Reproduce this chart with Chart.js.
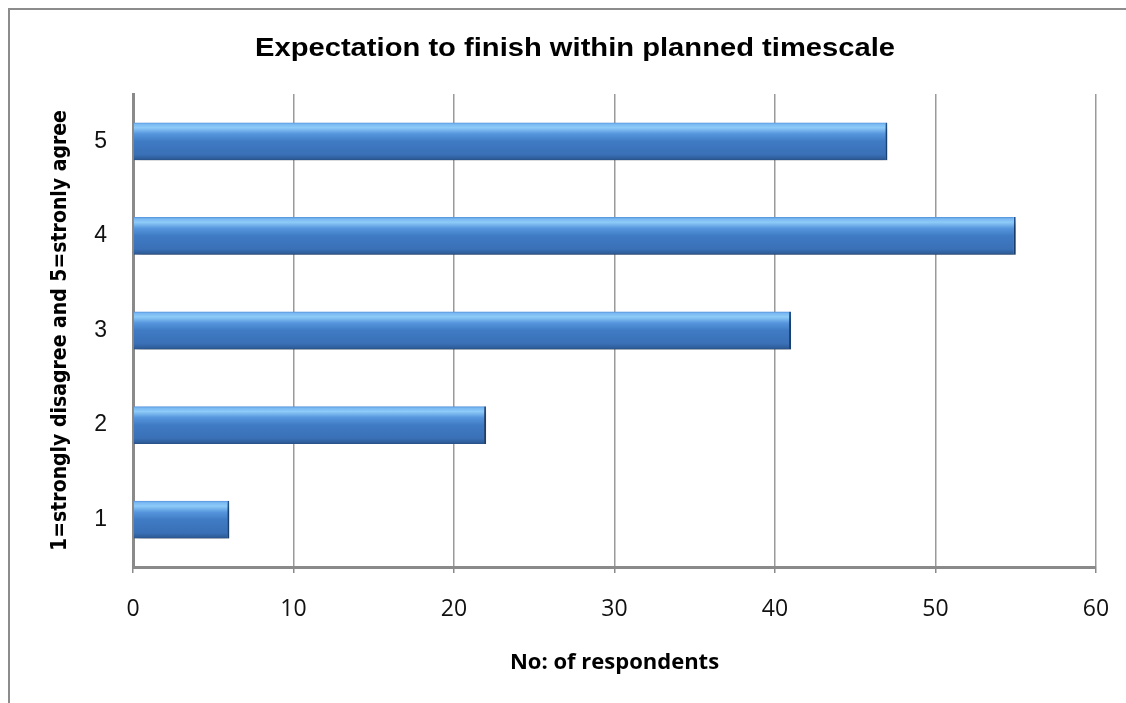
<!DOCTYPE html>
<html>
<head>
<meta charset="utf-8">
<title>Expectation to finish within planned timescale</title>
<script src="https://cdn.jsdelivr.net/npm/chart.js@4.4.1/dist/chart.umd.min.js"></script>
<style>
  html, body { margin: 0; padding: 0; background: #ffffff; }
  canvas { display: block; }
</style>
</head>
<body>
<canvas id="chart" width="1126" height="703"></canvas>
<script>
// Survey answers on a 1..5 agreement scale
const categories = ['1', '2', '3', '4', '5'];
const respondents = [6, 22, 41, 55, 47];
const xTicks = [0, 10, 20, 30, 40, 50, 60];

const chartTitle = 'Expectation to finish within planned timescale';
const xTitle = 'No: of respondents';
const yTitle = '1=strongly disagree and 5=stronly agree';

const BAR_FRACTION = 0.4;
const NARROW = "'Liberation Sans Narrow', 'DejaVu Sans Condensed', 'Arial Narrow', sans-serif";

// Vertical glossy gradient across each bar's thickness
function barFill(context) {
  const chart = context.chart;
  const y = chart.scales && chart.scales.y;
  if (!y || context.type !== 'data') return '#3f7bc4';
  const c = y.getPixelForValue(context.dataIndex);
  const band = Math.abs(y.getPixelForValue(1) - y.getPixelForValue(0));
  const h = band * BAR_FRACTION;
  if (!isFinite(c) || !isFinite(h) || h <= 0) return '#3f7bc4';
  const g = chart.ctx.createLinearGradient(0, c - h / 2, 0, c + h / 2);
  g.addColorStop(0.00, '#4f8fdc');
  g.addColorStop(0.05, '#7ab9f2');
  g.addColorStop(0.14, '#8ecbf8');
  g.addColorStop(0.30, '#5696dd');
  g.addColorStop(0.50, '#3f7bc4');
  g.addColorStop(0.85, '#3a70b6');
  g.addColorStop(0.95, '#2f5f9c');
  g.addColorStop(1.00, '#284f85');
  return g;
}

// Outer frame and the chart heading
const framePlugin = {
  id: 'frame',
  beforeDraw(chart) {
    const ctx = chart.ctx;
    ctx.save();
    ctx.fillStyle = '#ffffff';
    ctx.fillRect(0, 0, chart.width, chart.height);
    ctx.strokeStyle = '#8c8c8c';
    ctx.lineWidth = 2;
    ctx.strokeRect(9, 9, 1133, 720);
    ctx.restore();
  },
  afterDraw(chart) {
    const ctx = chart.ctx;
    ctx.save();
    ctx.fillStyle = '#000000';
    ctx.font = "bold 26px 'Liberation Sans', Arial, sans-serif";
    ctx.textAlign = 'center';
    ctx.textBaseline = 'middle';
    const w = ctx.measureText(chartTitle).width;
    const sx = 640 / w;
    ctx.translate(575, 49);
    ctx.scale(sx, 1);
    ctx.fillText(chartTitle, 0, 0);
    ctx.restore();
  }
};

// Soft drop shadow under the bars
const shadowPlugin = {
  id: 'barShadow',
  beforeDatasetsDraw(chart) {
    const ctx = chart.ctx;
    ctx.save();
    ctx.shadowColor = 'rgba(0, 0, 0, 0.45)';
    ctx.shadowBlur = 7;
    ctx.shadowOffsetX = 2;
    ctx.shadowOffsetY = 6;
  },
  afterDatasetsDraw(chart) {
    chart.ctx.restore();
  }
};

new Chart(document.getElementById('chart'), {
  type: 'bar',
  data: {
    labels: categories,
    datasets: [{
      data: respondents,
      backgroundColor: barFill,
      borderColor: '#22528e',
      borderWidth: { top: 0, right: 2, bottom: 0, left: 0 },
      borderSkipped: false,
      barPercentage: BAR_FRACTION,
      categoryPercentage: 1.0
    }]
  },
  options: {
    indexAxis: 'y',
    responsive: false,
    animation: false,
    events: [],
    layout: { padding: { top: 94, right: 0, bottom: 0, left: 0 } },
    plugins: {
      legend: { display: false },
      title: { display: false },
      tooltip: { enabled: false }
    },
    scales: {
      x: {
        type: 'linear',
        min: 0,
        max: 60,
        afterBuildTicks(scale) {
          scale.ticks = xTicks.map(v => ({ value: v }));
        },
        afterFit(scale) {
          scale.height = 136;
          scale.paddingLeft = 0;
          scale.paddingRight = 30;
        },
        grid: {
          color: '#9a9a9a',
          lineWidth: 1.5,
          drawTicks: true,
          tickLength: 6,
          tickColor: '#8a8a8a',
          tickWidth: 1.5
        },
        border: { display: true, color: '#8a8a8a', width: 3 },
        ticks: {
          color: '#111111',
          padding: 23,
          font: { family: "'Open Sans', sans-serif", size: 23 }
        },
        title: {
          display: true,
          text: xTitle,
          color: '#000000',
          padding: { top: 0, bottom: 27 },
          font: { family: "'Open Sans', sans-serif", size: 22, weight: 'bold' }
        }
      },
      y: {
        type: 'category',
        reverse: true,
        afterFit(scale) { scale.width = 133; },
        grid: { display: false, drawTicks: false },
        border: { display: true, color: '#8a8a8a', width: 3 },
        ticks: {
          color: '#111111',
          padding: 26,
          font: { family: "'Liberation Sans', Arial, sans-serif", size: 23 }
        },
        title: {
          display: true,
          text: yTitle,
          color: '#000000',
          padding: { top: 48, bottom: 0 },
          font: { family: NARROW, size: 21, weight: 'bold' }
        }
      }
    }
  },
  plugins: [framePlugin, shadowPlugin]
});
</script>
</body>
</html>
